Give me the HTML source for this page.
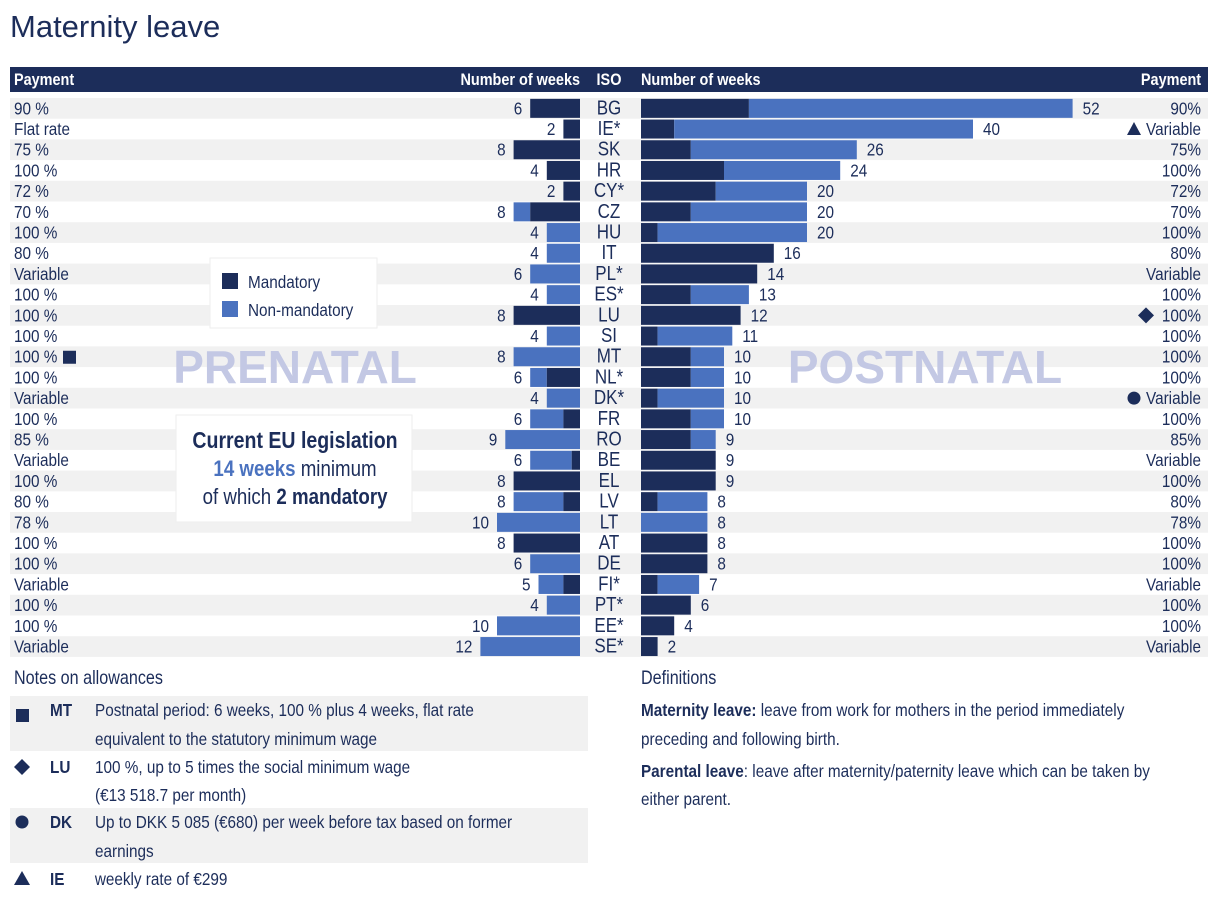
<!DOCTYPE html>
<html><head><meta charset="utf-8"><style>
body{margin:0;background:#fff;}
svg text{font-family:"Liberation Sans Narrow","Liberation Sans",sans-serif;transform-box:fill-box;transform-origin:left center;transform:scaleX(.85);}
svg text[text-anchor="end"]{transform-origin:right center;}
svg text[text-anchor="middle"]{transform-origin:center center;}
svg text.ns{transform:none;}
</style></head><body>
<svg id="c" width="1226" height="904" xmlns="http://www.w3.org/2000/svg">
<text class="ns" x="10" y="37" font-size="31" fill="#1c2d5a">Maternity leave</text>
<rect x="10" y="67" width="1198" height="25" fill="#1c2d5a"/>
<g fill="#fff" font-size="17" font-weight="bold">
<text x="14" y="85">Payment</text>
<text x="580" y="85" text-anchor="end">Number of weeks</text>
<text x="609" y="85" text-anchor="middle">ISO</text>
<text x="641" y="85">Number of weeks</text>
<text x="1201" y="85" text-anchor="end">Payment</text>
</g>
<g id="rows"></g>
<text class="ns" x="295" y="383" text-anchor="middle" font-size="46" font-weight="bold" fill="#c3c8e4" font-family="Liberation Sans">PRENATAL</text>
<text class="ns" x="925" y="383" text-anchor="middle" font-size="46" font-weight="bold" fill="#c3c8e4" font-family="Liberation Sans">POSTNATAL</text>
<g>
<rect x="210" y="258" width="167" height="70" fill="#fff" stroke="#eee"/>
<rect x="222" y="273" width="16" height="16" fill="#1c2d5a"/>
<text x="248" y="288" font-size="18" fill="#1c2d5a">Mandatory</text>
<rect x="222" y="301" width="16" height="16" fill="#4a72bf"/>
<text x="248" y="316" font-size="18" fill="#1c2d5a">Non-mandatory</text>
</g>
<g>
<rect x="176" y="415" width="236" height="107" fill="#fff" stroke="#eee"/>
<text x="295" y="448" text-anchor="middle" font-size="23" font-weight="bold" fill="#1c2d5a">Current EU legislation</text>
<text x="295" y="476" text-anchor="middle" font-size="22" fill="#1c2d5a"><tspan fill="#4a72bf" font-weight="bold">14 weeks</tspan> minimum</text>
<text x="295" y="504" text-anchor="middle" font-size="22" fill="#1c2d5a">of which <tspan font-weight="bold">2 mandatory</tspan></text>
</g>
<text x="14" y="684" font-size="19" fill="#1c2d5a">Notes on allowances</text>
<g font-size="18" fill="#1c2d5a">
<rect x="10" y="696" width="578" height="55" fill="#f1f1f1"/>
<rect x="10" y="808" width="578" height="55" fill="#f1f1f1"/>
<rect x="16" y="709" width="13" height="13" fill="#1c2d5a"/>
<polygon points="22,759 30,767 22,775 14,767" fill="#1c2d5a"/>
<circle cx="22" cy="822" r="6.5" fill="#1c2d5a"/>
<polygon points="22,871 30,885 14,885" fill="#1c2d5a"/>
<text x="50" y="716" font-weight="bold">MT</text><text x="95" y="716">Postnatal period: 6 weeks, 100 % plus 4 weeks, flat rate</text>
<text x="95" y="745">equivalent to the statutory minimum wage</text>
<text x="50" y="773" font-weight="bold">LU</text><text x="95" y="773">100 %, up to 5 times the social minimum wage</text>
<text x="95" y="801">(€13 518.7 per month)</text>
<text x="50" y="828" font-weight="bold">DK</text><text x="95" y="828">Up to DKK 5 085 (€680) per week before tax based on former</text>
<text x="95" y="857">earnings</text>
<text x="50" y="885" font-weight="bold">IE</text><text x="95" y="885">weekly rate of €299</text>
</g>
<g font-size="18" fill="#1c2d5a">
<text x="641" y="684" font-size="19">Definitions</text>
<text x="641" y="716"><tspan font-weight="bold">Maternity leave:</tspan> leave from work for mothers in the period immediately</text>
<text x="641" y="745">preceding and following birth.</text>
<text x="641" y="777"><tspan font-weight="bold">Parental leave</tspan>: leave after maternity/paternity leave which can be taken by</text>
<text x="641" y="805">either parent.</text>
</g>
</svg>
<script>
const isoCodes=["BG","IE*","SK","HR","CY*","CZ","HU","IT","PL*","ES*","LU","SI","MT","NL*","DK*","FR","RO","BE","EL","LV","LT","AT","DE","FI*","PT*","EE*","SE*"];
const prePayment=["90 %","Flat rate","75 %","100 %","72 %","70 %","100 %","80 %","Variable","100 %","100 %","100 %","100 %","100 %","Variable","100 %","85 %","Variable","100 %","80 %","78 %","100 %","100 %","Variable","100 %","100 %","Variable"];
const postPayment=["90%","Variable","75%","100%","72%","70%","100%","80%","Variable","100%","100%","100%","100%","100%","Variable","100%","85%","Variable","100%","80%","78%","100%","100%","Variable","100%","100%","Variable"];
const preTotal=[6,2,8,4,2,8,4,4,6,4,8,4,8,6,4,6,9,6,8,8,10,8,6,5,4,10,12];
const preMandatory=[6,2,8,4,2,6,0,0,0,0,8,0,0,4,0,2,0,1,8,2,0,8,0,2,0,0,0];
const postTotal=[52,40,26,24,20,20,20,16,14,13,12,11,10,10,10,10,9,9,9,8,8,8,8,7,6,4,2];
const postMandatory=[13,4,6,10,9,6,2,16,14,6,12,2,6,6,2,6,6,9,9,2,0,8,8,2,6,4,2];
const DARK="#1c2d5a",LIGHT="#4a72bf",NS="http://www.w3.org/2000/svg";
const rowTop=i=>98+i*20.7, rowH=20.7, barH=19;
const wScale=w=>w*8.3;
const preX=580, postX=641;
const g=document.getElementById('rows');
function mk(tag,attrs,txt){const e=document.createElementNS(NS,tag);for(const k in attrs)e.setAttribute(k,attrs[k]);if(txt!==undefined)e.textContent=txt;g.appendChild(e);return e;}
isoCodes.forEach((iso,i)=>{
  const y=rowTop(i), cy=y+rowH/2, ty=cy+6;
  if(i%2===0){const r=mk('rect',{x:10,y:y,width:1198,height:rowH,fill:'#f1f1f1'});
    
    }
  const by=y+(rowH-barH)/2;
  const pt=wScale(preTotal[i]), pm=wScale(preMandatory[i]);
  const b1=mk('rect',{x:preX-pt,y:by,width:pt-pm,height:barH,fill:LIGHT});
  
  
  const b2=mk('rect',{x:preX-pm,y:by,width:pm,height:barH,fill:DARK});
  
  
  const l1=mk('text',{x:preX-pt-8,y:ty,'text-anchor':'end','font-size':18,fill:'#1c2d5a'},preTotal[i]);
  
  
  const qt=wScale(postTotal[i]), qm=wScale(postMandatory[i]);
  const c1=mk('rect',{x:postX,y:by,width:qm,height:barH,fill:DARK});
  
  
  const c2=mk('rect',{x:postX+qm,y:by,width:qt-qm,height:barH,fill:LIGHT});
  
  
  const l2=mk('text',{x:postX+qt+10,y:ty,'font-size':18,fill:'#1c2d5a'},postTotal[i]);
  
  
  const t1=mk('text',{x:609,y:ty,'text-anchor':'middle','font-size':20,fill:'#1c2d5a'},iso);
  
  
  const t2=mk('text',{x:14,y:ty,'font-size':18,fill:'#1c2d5a'},prePayment[i]);
  
  
  const t3=mk('text',{x:1201,y:ty,'text-anchor':'end','font-size':18,fill:'#1c2d5a'},postPayment[i]);
  
  
  let m=null;
  if(iso==="MT"){m=mk('rect',{x:63,y:cy-6,width:13,height:13,fill:DARK});}
  if(iso==="LU"){m=mk('polygon',{points:`1146,${cy-8} 1154,${cy} 1146,${cy+8} 1138,${cy}`,fill:DARK});}
  if(iso==="DK*"){m=mk('circle',{cx:1134,cy:cy,r:6.5,fill:DARK});}
  if(iso==="IE*"){m=mk('polygon',{points:`1134,${cy-7} 1141,${cy+6} 1127,${cy+6}`,fill:DARK});}
  if(m){
    }
});
</script>
</body></html>
